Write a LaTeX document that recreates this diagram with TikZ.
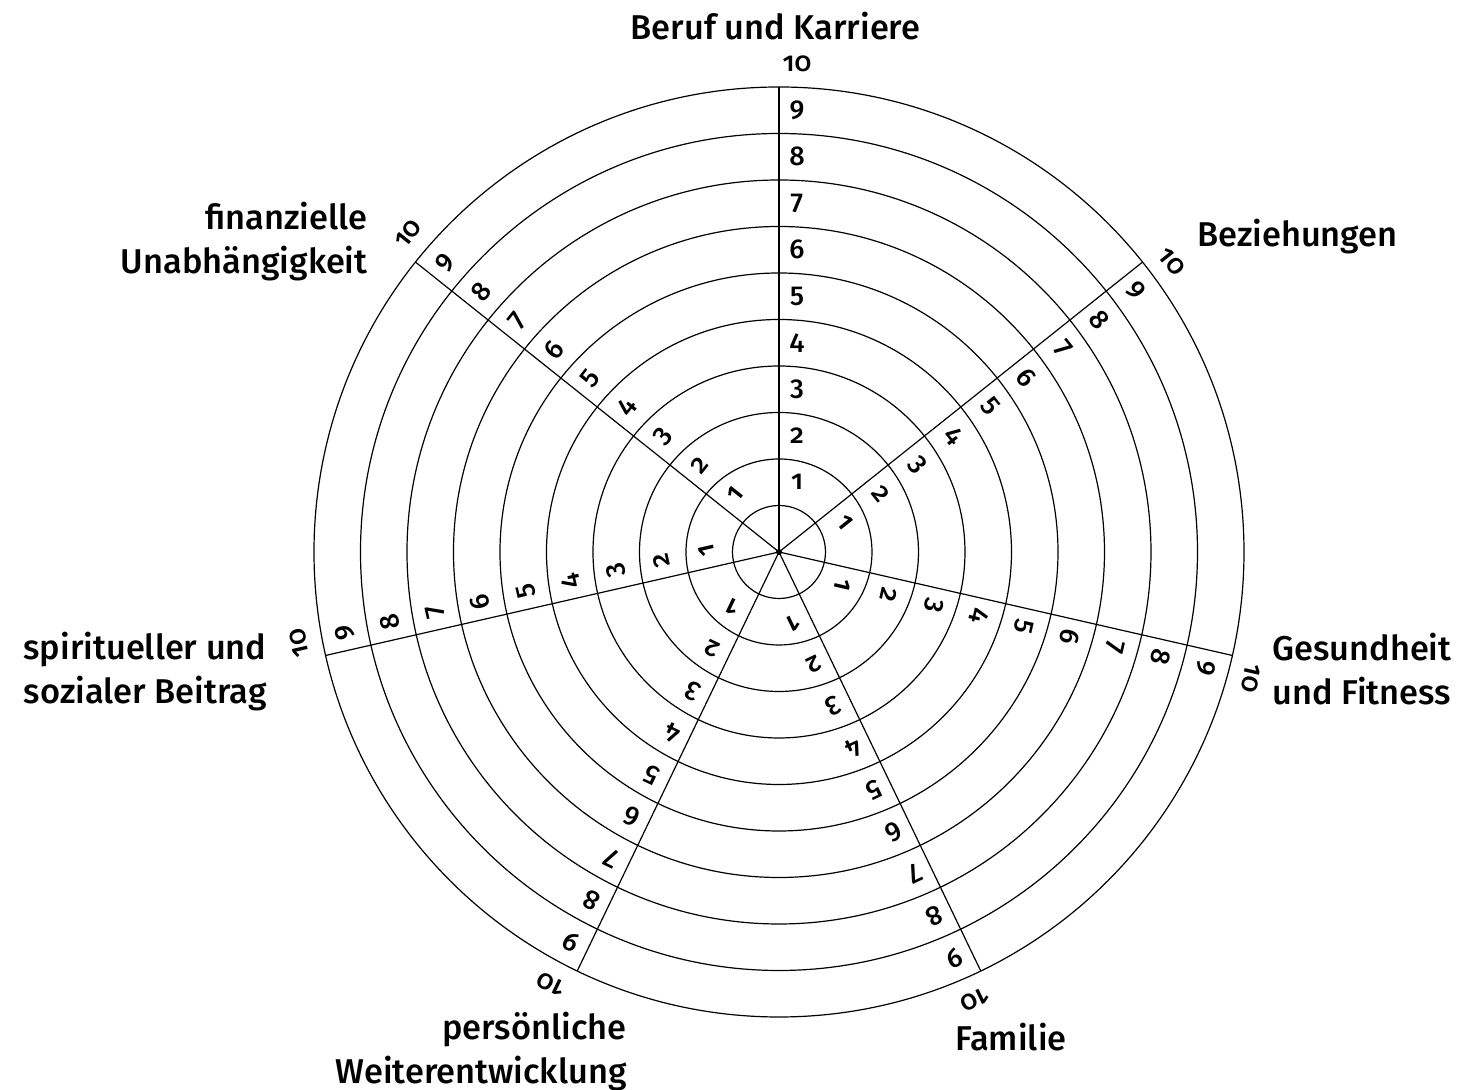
\documentclass[tikz,border=0pt]{standalone}
\usepackage{fontspec}
\setmainfont{Fira Sans Medium}[Numbers=OldStyle]
\usetikzlibrary{calc}

\tikzset{
  ring/.style={line width=0.6pt},
  spoke/.style={line width=0.6pt},
  num/.style={font=\fontsize{13.6}{16}\selectfont, inner sep=0pt, transform shape},
  area/.style={font=\fontsize{17.2}{21.75}\selectfont, inner sep=0pt},
}

\begin{document}
\begin{tikzpicture}[x=0.5pt,y=0.5pt]
  \useasboundingbox (-779,-538) rectangle (684,552);
  \def\st{46.5}
  \coordinate(O) at (0,0);

  % rings
  \foreach \k in {1,...,10}
    \draw[ring] (O) circle[radius=\k*\st];

  % spokes and their scales
  \foreach \i in {0,...,6}{
    \pgfmathsetmacro\a{90-\i*360/7}
    \draw[spoke] (O) -- (\a:10*\st) coordinate(s\i);
    \begin{scope}[rotate=\a-90]
      \foreach \k in {1,...,10}
        \node[num] (n\i-\k) at (18,{(\k+0.5)*\st}) {\k};
    \end{scope}
  }
  \fill (O) circle[radius=3];

  % areas of life
  \node[area, anchor=base] (beruf) at (-3.5,512) {Beruf und Karriere};
  \node[area, anchor=base west] (bez) at (418,305) {Beziehungen};
  \node[area, anchor=north west, align=left] (ges) at (493,-81) {Gesundheit\\und Fitness};
  \node[area, anchor=north west] (fam) at (176,-471) {Familie};
  \node[area, anchor=north east, align=right] (pers) at (-152,-460) {persönliche\\Weiterentwicklung};
  \node[area, anchor=north east, align=right] (spir) at (-512,-80) {spiritueller und\\sozialer Beitrag};
  \node[area, anchor=north east, align=right] (fin) at (-411,350) {finanzielle\\Unabhängigkeit};
\end{tikzpicture}
\end{document}
